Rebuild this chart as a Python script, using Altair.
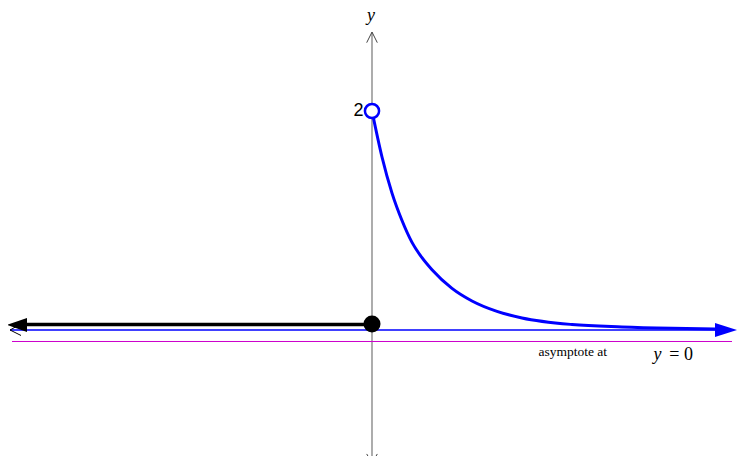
import altair as alt
import pandas as pd

# ---- data (in graph units) ----
# decaying branch of the piecewise function (x > 0)
curve_x = [0.0, 0.1, 0.2, 0.3, 0.4, 0.5, 0.6, 0.8, 1.0, 1.25, 1.5, 2.0, 2.5, 3.0, 3.43]
curve_y = [2.0, 1.58, 1.25, 1.0, 0.8, 0.66, 0.55, 0.38, 0.265, 0.17, 0.11, 0.05, 0.028, 0.016, 0.01]

# constant branch (x <= 0) drawn as a ray to the left
ray_x = [-3.52, 0.0]
ray_y = [0.05, 0.05]

# asymptote line y = 0 and x-axis line
asym_x = [-3.62, 3.44]
asym_y = [0.0, 0.0]
xaxis_x = [-3.60, 3.60]
xaxis_y = [-0.105, -0.105]

# y-axis line and its chevrons
yaxis_x = [0.0, 0.0]
yaxis_y = [2.72, -1.215]
chev_seg = ["top", "top", "top", "bot", "bot", "bot", "left", "left", "left"]
chev_ord = [0, 1, 2, 0, 1, 2, 0, 1, 2]
chev_x = [-0.053, 0.0, 0.053, -0.053, 0.0, 0.053, -3.51, -3.62, -3.51]
chev_y = [2.624, 2.721, 2.624, -1.132, -1.215, -1.132, 0.055, 0.0, -0.05]

# endpoints
open_pt = (0.0, 2.0)
closed_pt = (0.0, 0.055)
left_head = (-3.55, 0.046)
right_head = (3.54, 0.0)

# labels
lab_text = ["y", "x", "2", "asymptote at"]
lab_x = [-0.01, 3.70, -0.085, 2.007]
lab_y = [2.82, -0.14, 2.0, -0.237]

X0, X1 = -3.64, 3.66
Y0, Y1 = -1.1507, 2.9406

xs = alt.Scale(domain=[X0, X1], nice=False, zero=False)
ys = alt.Scale(domain=[Y0, Y1], nice=False, zero=False)


def enc(**kw):
    return dict(x=alt.X("x:Q", scale=xs, axis=None), y=alt.Y("y:Q", scale=ys, axis=None), **kw)


def df(x, y, **extra):
    d = {"x": x, "y": y}
    d.update(extra)
    return pd.DataFrame(d)


yaxis = alt.Chart(df(yaxis_x, yaxis_y)).mark_line(color="#808080", strokeWidth=1.3).encode(**enc())
chev = alt.Chart(df(chev_x[6:], chev_y[6:], seg=chev_seg[6:], o=chev_ord[6:])).mark_line(
    color="#000000", strokeWidth=1).encode(**enc(detail="seg:N", order="o:Q"))
chev_gray = alt.Chart(df(chev_x[:6], chev_y[:6], seg=chev_seg[:6], o=chev_ord[:6])).mark_line(
    color="#444444", strokeWidth=1).encode(**enc(detail="seg:N", order="o:Q"))
xaxis = alt.Chart(df(xaxis_x, xaxis_y)).mark_line(color="#cc00cc", strokeWidth=1).encode(**enc())
asym = alt.Chart(df(asym_x, asym_y)).mark_line(color="#0000ff", strokeWidth=1.5).encode(**enc())
curve = alt.Chart(df(curve_x, curve_y)).mark_line(
    color="#0000ff", strokeWidth=3, interpolate="monotone").encode(**enc())
ray = alt.Chart(df(ray_x, ray_y)).mark_line(color="#000000", strokeWidth=3.5).encode(**enc())

lhead = alt.Chart(df([left_head[0]], [left_head[1]])).mark_point(
    shape="M-1,0L1,-0.7L1,0.7Z", filled=True, size=400, color="#000000", opacity=1).encode(**enc())
rhead = alt.Chart(df([right_head[0]], [right_head[1]])).mark_point(
    shape="M1,0L-1,-0.64L-1,0.64Z", filled=True, size=484, color="#0000ff", opacity=1).encode(**enc())
dot = alt.Chart(df([closed_pt[0]], [closed_pt[1]])).mark_point(
    shape="circle", filled=True, size=290, color="#000000", opacity=1).encode(**enc())
hole = alt.Chart(df([open_pt[0]], [open_pt[1]])).mark_point(
    shape="circle", filled=False, size=200, stroke="#0000ff", fill="#ffffff", fillOpacity=1,
    strokeWidth=2.5, opacity=1).encode(**enc())

ylab = alt.Chart(df([lab_x[0]], [lab_y[0]], t=[lab_text[0]])).mark_text(
    font="Liberation Serif", fontStyle="italic", fontSize=18, align="center", baseline="alphabetic",
    color="#000000").encode(**enc(text="t:N"))
xlab = alt.Chart(df([lab_x[1]], [lab_y[1]], t=[lab_text[1]])).mark_text(
    font="Liberation Serif", fontStyle="italic", fontSize=18, align="left", baseline="alphabetic",
    color="#000000").encode(**enc(text="t:N"))
twolab = alt.Chart(df([lab_x[2]], [lab_y[2]], t=[lab_text[2]])).mark_text(
    font="Liberation Sans", fontSize=18, align="right", baseline="middle",
    color="#000000").encode(**enc(text="t:N"))
asylab = alt.Chart(df([lab_x[3]], [lab_y[3]], t=[lab_text[3]])).mark_text(
    font="Liberation Serif", fontSize=13.5, align="center", baseline="alphabetic",
    color="#000000").encode(**enc(text="t:N"))

eq_text = ["y", "= 0"]
eq_x = [2.815, 3.21]
eq_y = [-0.274, -0.274]
eq_y_lab = alt.Chart(df([eq_x[0]], [eq_y[0]], t=[eq_text[0]])).mark_text(
    font="Liberation Serif", fontStyle="italic", fontSize=18, align="left", baseline="alphabetic",
    color="#000000").encode(**enc(text="t:N"))
eq_rest = alt.Chart(df([eq_x[1]], [eq_y[1]], t=[eq_text[1]])).mark_text(
    font="Liberation Serif", fontSize=18, align="right", baseline="alphabetic",
    color="#000000").encode(**enc(text="t:N"))

chart = alt.layer(
    yaxis, chev_gray, xaxis, asym, chev, curve, ray, lhead, rhead, dot, hole,
    ylab, xlab, twolab, asylab, eq_y_lab, eq_rest
).properties(
    width=730, height=448, padding=0, background="#ffffff",
    autosize=alt.AutoSizeParams(type="none")
).configure_view(stroke=None)

chart.save("out.html", embed_options={"renderer": "svg", "actions": False})
